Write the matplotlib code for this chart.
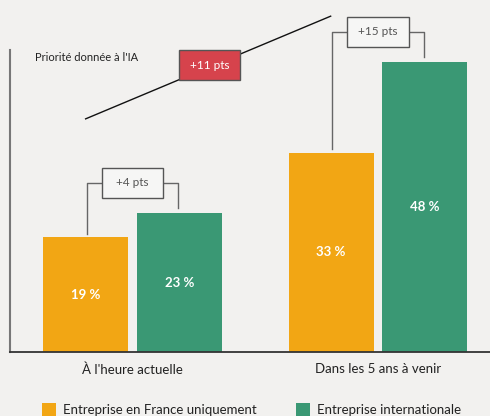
import matplotlib.pyplot as plt
from matplotlib.patches import Rectangle

plt.rcParams['font.family'] = ['Lato', 'DejaVu Sans']

categories = ["À l'heure actuelle", "Dans les 5 ans à venir"]
series_names = ['Entreprise en France uniquement', 'Entreprise internationale']
france = [19, 33]
inter = [23, 48]
gaps = ['+4 pts', '+15 pts']
trend_label = '+11 pts'

bg = '#f2f1ef'
orange = '#f2a614'
green = '#3a9874'
red = '#d6434c'
grey = '#666666'

fig = plt.figure(figsize=(4.9, 4.16), dpi=100, facecolor=bg)
ax = fig.add_axes([10 / 490, 64 / 416, 480 / 490, 302 / 416])
ax.set_facecolor(bg)

w = 0.346
off = 0.191
x = [0, 1]
b1 = ax.bar([i - off for i in x], france, width=w, color=orange)
b2 = ax.bar([i + off for i in x], inter, width=w, color=green)

for bars, vals in ((b1, france), (b2, inter)):
    for r, v in zip(bars, vals):
        ax.text(r.get_x() + r.get_width() / 2, v / 2, f'{v} %', ha='center', va='center',
                color='white', fontsize=9.5, fontweight='bold')

# brackets between the two bars of each group
bw, bh = 0.25, 5.0
for i, (a, b, lab) in enumerate(zip(france, inter, gaps)):
    xl, xr = i - off + 0.005, i + off - 0.004
    lvl = max(a, b) + 5
    ax.plot([xl, xl, i - bw / 2], [a + 0.6, lvl, lvl], color=grey, lw=1, clip_on=False)
    ax.plot([i + bw / 2, xr, xr], [lvl, lvl, b + 0.8], color=grey, lw=1, clip_on=False)
    ax.add_patch(Rectangle((i - bw / 2, lvl - bh / 2), bw, bh, facecolor='#f6f6f5',
                           edgecolor='#555555', lw=1, clip_on=False, zorder=3))
    ax.text(i, lvl, lab, ha='center', va='center', color='#555555', fontsize=8.5, zorder=4)

# trend line between the two groups
ax.plot([-0.191, 0.807], [38.6, 55.6], color='#111111', lw=1, clip_on=False, zorder=2)
ax.add_patch(Rectangle((0.19, 45.0), 0.249, 5.0, facecolor=red, edgecolor='#555555',
                       lw=1, clip_on=False, zorder=3))
ax.text(0.314, 47.5, trend_label, ha='center', va='center', color='white', fontsize=8.5, zorder=4)

ax.text(-0.397, 48.7, "Priorité donnée à l'IA", fontsize=8, color='#222222', va='center')

ax.set_xlim(-0.499, 1.456)
ax.set_ylim(0, 50)
ax.set_xticks(x)
ax.set_xticklabels(categories, fontsize=9.5, color='#222222')
ax.tick_params(axis='x', length=0, pad=8)
ax.set_yticks([])
for s in ('top', 'right'):
    ax.spines[s].set_visible(False)
ax.spines['left'].set_color('#777777')
ax.spines['left'].set_linewidth(1.5)
ax.spines['bottom'].set_color('#333333')
ax.spines['bottom'].set_linewidth(1.3)

# legend
for px, col, name in ((42, orange, series_names[0]), (296, green, series_names[1])):
    fig.patches.append(Rectangle((px / 490, 0), 14 / 490, 13 / 416, facecolor=col,
                                 transform=fig.transFigure, figure=fig))
    fig.text((px + 21) / 490, 6 / 416, name, fontsize=9.5, color='#222222', va='center')

fig.savefig('out.png', dpi=100, facecolor=bg)
